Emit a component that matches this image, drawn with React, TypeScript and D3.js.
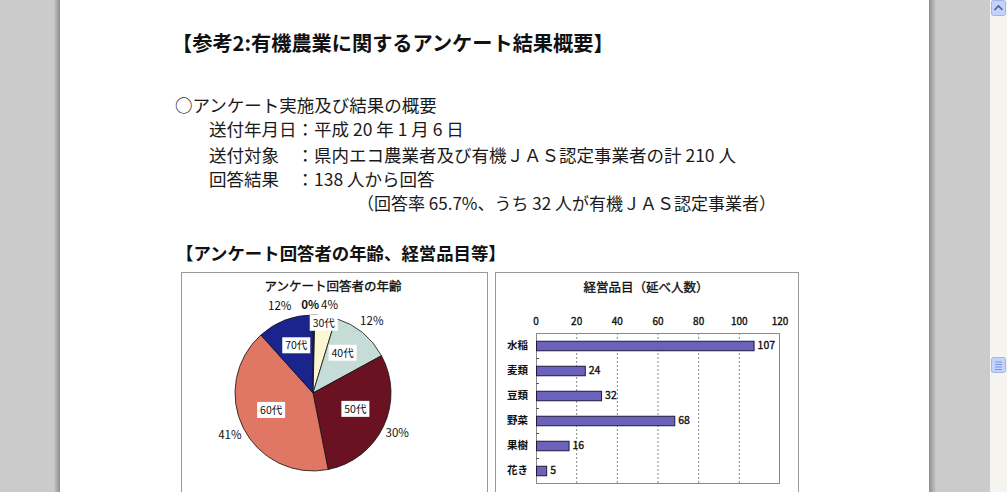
import { useMemo } from 'react'
import * as d3 from 'd3'

// 回答者の年齢（構成比 %）
const ageLabels = ['20代', '30代', '40代', '50代', '60代', '70代']
const ageShares = [0.4, 4.3, 12.3, 29.7, 41.3, 11.6]
const ageColors = ['#9c1a1c', '#fbf7d2', '#c6dcd6', '#6b1222', '#e07664', '#1a248c']

// 経営品目（延べ人数）
const items = ['水稲', '麦類', '豆類', '野菜', '果樹', '花き']
const itemCounts = [107, 24, 32, 68, 16, 5]
const countTicks = [0, 20, 40, 60, 80, 100, 120]

const heading = '【参考2:有機農業に関するアンケート結果概要】'
const summaryLines = [
  '○アンケート実施及び結果の概要',
  '送付年月日：平成 20 年 1 月 6 日',
  '送付対象　：県内エコ農業者及び有機ＪＡＳ認定事業者の計 210 人',
  '回答結果　：138 人から回答',
  '（回答率 65.7%、うち 32 人が有機ＪＡＳ認定事業者）',
]
const subHeading = '【アンケート回答者の年齢、経営品目等】'

const W = 1007
const H = 492
const jp = '"Noto Sans CJK JP", "Noto Sans", sans-serif'

export default function App() {
  const pieCx = 313
  const pieCy = 393
  const R = 78

  const slices = useMemo(() => d3.pie<number>().sort(null).value(d => d)(ageShares), [])
  const arc = d3.arc<d3.PieArcDatum<number>>().innerRadius(0).outerRadius(R)
  const total = d3.sum(ageShares)
  const labelArc = (r: number) => d3.arc<d3.PieArcDatum<number>>().innerRadius(r).outerRadius(r)

  const x = d3.scaleLinear().domain([0, 120]).range([536, 780])
  const y = d3.scaleBand<string>().domain(items).range([333, 483]).paddingInner(0.62).paddingOuter(0.31)
  const band = d3.scaleBand<string>().domain(items).range([333, 483])

  const lineX = [175, 209, 209, 209, 357]
  const lineY = [106, 130, 156, 180, 204]
  const lineSize = [17.5, 17.5, 17.5, 17.5, 17]
  const medium = { stroke: '#111', strokeWidth: 0.35 }

  return (
    <div style={{ position: 'fixed', left: 0, top: 0 }}>
      <svg width={W} height={H} style={{ display: 'block' }}>
        <defs>
          <linearGradient id="shadowL" x1="0" x2="1">
            <stop offset="0" stopColor="#c6c6c6" />
            <stop offset="1" stopColor="#8e8e8e" />
          </linearGradient>
          <linearGradient id="shadowR" x1="0" x2="1">
            <stop offset="0" stopColor="#8e8e8e" />
            <stop offset="1" stopColor="#c8c8c8" />
          </linearGradient>
        </defs>
        {/* viewer background */}
        <rect x={0} y={0} width={W} height={H} fill="#cbcbcb" />
        <rect x={54} y={0} width={6} height={H} fill="url(#shadowL)" />
        <rect x={60} y={0} width={869} height={H} fill="#ffffff" />
        <rect x={929} y={0} width={7} height={H} fill="url(#shadowR)" />
        {/* scrollbar */}
        <rect x={990} y={0} width={17} height={H} fill="#f5f4ee" />
        <rect x={991.5} y={0.5} width={14} height={15} rx={2} fill="#c3d3fb" stroke="#9fb6ec" />
        <path d="M994.5,10 L998.5,6 L1002.5,10" fill="none" stroke="#4d6185" strokeWidth={1.6} />
        <rect x={991.5} y={357.5} width={14} height={15} rx={2} fill="#c3d3fb" stroke="#9fb6ec" />
        {[362, 364.5, 367, 369.5].map(v => (
          <line key={v} x1={995} x2={1002} y1={v} y2={v} stroke="#7d95d8" />
        ))}

        {/* document text */}
        <text x={172} y={51} fontFamily={jp} fontSize={20.2} fontWeight="bold" fill="#111">{heading}</text>
        {summaryLines.map((t, i) => (
          <text key={i} x={lineX[i]} y={lineY[i] + 6} fontFamily={jp} fontSize={lineSize[i]} fill="#1a1a1a">{t}</text>
        ))}
        <text x={176} y={260} fontFamily={jp} fontSize={17.4} fontWeight="bold" fill="#111">{subHeading}</text>

        {/* pie chart frame */}
        <rect x={181.5} y={272.5} width={306} height={230} fill="#fff" stroke="#9a9a9a" />
        <text x={333} y={291} textAnchor="middle" fontFamily={jp} fontSize={12.5} fill="#111" {...medium}>アンケート回答者の年齢</text>
        <g transform={`translate(${pieCx},${pieCy})`}>
          {slices.map((s, i) => (
            <path key={i} d={arc(s) || ''} fill={ageColors[i]} stroke="#111" strokeWidth={0.8} />
          ))}
          {slices.map((s, i) => {
            if (i === 0) return null
            const span = s.endAngle - s.startAngle
            const [lx, ly] = labelArc(span < 0.5 ? R * 0.86 : R * 0.6).centroid(s)
            return (
              <g key={i} transform={`translate(${lx},${ly - 4})`}>
                <rect x={-14} y={-8} width={28} height={16} fill="#fff" />
                <text textAnchor="middle" dy="0.36em" fontFamily={jp} fontSize={10.5} fill="#111">{ageLabels[i]}</text>
              </g>
            )
          })}
          {slices.map((s, i) => {
            const [lx, ly] = labelArc(R + 15).centroid(s)
            const pct = Math.round((ageShares[i] / total) * 100)
            const anchor = i === 0 ? 'end' : i === 1 ? 'start' : 'middle'
            const px = i === 0 ? 6 : i === 1 ? 8 : lx
            const py = i < 2 ? -88 : ly
            return (
              <text key={i} x={px} y={py} dy="0.36em" textAnchor={anchor}
                fontFamily={jp} fontSize={11.5} fontWeight={i === 0 ? 'bold' : 'normal'} fill="#111">{pct}%</text>
            )
          })}
        </g>

        {/* bar chart frame */}
        <rect x={495.5} y={272.5} width={303} height={230} fill="#fff" stroke="#9a9a9a" />
        <text x={646} y={292} textAnchor="middle" fontFamily={jp} fontSize={12.5} fill="#111" {...medium}>経営品目（延べ人数）</text>
        {countTicks.map(t => (
          <text key={t} x={x(t)} y={321} dy="0.36em" textAnchor="middle" fontFamily={jp} fontSize={10} fill="#111" {...medium}>{t}</text>
        ))}
        {countTicks.slice(1, -1).map(t => (
          <line key={t} x1={x(t)} x2={x(t)} y1={333} y2={483} stroke="#8a8a8a" strokeDasharray="2,2" />
        ))}
        <rect x={536.5} y={333.5} width={243} height={150} fill="none" stroke="#8a8a8a" />
        {items.slice(1).map(c => (
          <line key={c} x1={536} x2={539} y1={(band(c) || 0) + 0.5} y2={(band(c) || 0) + 0.5} stroke="#555" />
        ))}
        {items.map((c, i) => (
          <g key={c}>
            <rect x={x(0) + 0.5} y={(y(c) || 0) + 0.5} width={x(itemCounts[i]) - x(0)} height={y.bandwidth()}
              fill="#6c62bb" stroke="#1d1a3a" strokeWidth={1} />
            <text x={528} y={(y(c) || 0) + y.bandwidth() / 2} dy="0.36em" textAnchor="end" fontFamily={jp}
              fontSize={10.5} fontWeight="bold" fill="#111">{c}</text>
            <text x={x(itemCounts[i]) + 4} y={(y(c) || 0) + y.bandwidth() / 2} dy="0.36em" fontFamily={jp}
              fontSize={10.5} fill="#111" {...medium}>{itemCounts[i]}</text>
          </g>
        ))}
      </svg>
    </div>
  )
}
